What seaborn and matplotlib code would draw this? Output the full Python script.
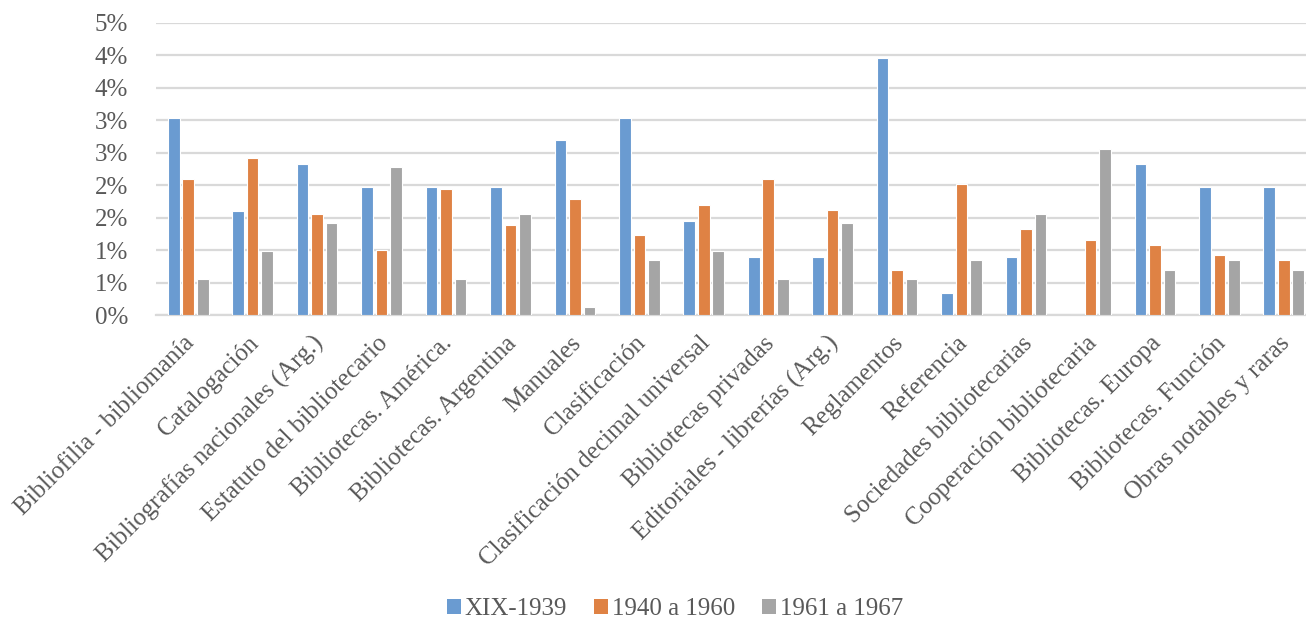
import pandas as pd
import matplotlib
matplotlib.use('Agg')
import matplotlib.pyplot as plt
import seaborn as sns
from matplotlib.patches import Patch
from matplotlib.transforms import ScaledTranslation

# data (percent of total per period)
categories = ['Bibliofilia - bibliomanía', 'Catalogación', 'Bibliografías nacionales (Arg.)',
              'Estatuto del bibliotecario', 'Bibliotecas. América.', 'Bibliotecas. Argentina',
              'Manuales', 'Clasificación', 'Clasificación decimal universal',
              'Bibliotecas privadas', 'Editoriales - librerías (Arg.)', 'Reglamentos',
              'Referencia', 'Sociedades bibliotecarias', 'Cooperación bibliotecaria',
              'Bibliotecas. Europa', 'Bibliotecas. Función', 'Obras notables y raras']
periods = ['XIX-1939', '1940 a 1960', '1961 a 1967']
xix_1939 = [3.04, 1.60, 2.32, 1.97, 1.97, 1.97, 2.69, 3.04, 1.44,
            0.90, 0.90, 3.95, 0.34, 0.90, 0.00, 2.32, 1.97, 1.97]
p1940_1960 = [2.09, 2.41, 1.55, 1.00, 1.94, 1.38, 1.78, 1.23, 1.70,
              2.09, 1.62, 0.69, 2.02, 1.32, 1.16, 1.08, 0.93, 0.85]
p1961_1967 = [0.56, 0.98, 1.42, 2.28, 0.56, 1.55, 0.12, 0.85, 0.98,
              0.56, 1.42, 0.56, 0.85, 1.55, 2.56, 0.69, 0.85, 0.69]
y_ticks = [0, 0.5, 1.0, 1.5, 2.0, 2.5, 3.0, 3.5, 4.0, 4.5]
y_tick_labels = ['0%', '1%', '1%', '2%', '2%', '3%', '3%', '4%', '4%', '5%']

colors = ['#6A9BD1', '#DF8244', '#A5A5A5']
text_color = '#595959'
grid_color = '#D9D9D9'

df = pd.DataFrame({
    'categoria': categories * 3,
    'periodo': [p for p in periods for _ in categories],
    'valor': xix_1939 + p1940_1960 + p1961_1967,
})

sns.set_style('white')
plt.rcParams['font.family'] = ['Liberation Serif', 'DejaVu Serif']

W, H = 1306, 621
fig = plt.figure(figsize=(W / 100, H / 100), dpi=100)
ax = fig.add_axes([156 / W, (H - 315) / H, (1316 - 156) / W, (315 - 22.7) / H])

sns.barplot(data=df, x='categoria', y='valor', hue='periodo',
            hue_order=periods, palette=colors, saturation=1,
            width=0.675, gap=0.2, edgecolor='white', linewidth=0.8,
            ax=ax, legend=False, zorder=3)

ax.set_xlim(-0.5, len(categories) - 0.5)
ax.set_ylim(0, 4.5)
ax.set_yticks(y_ticks)
ax.set_yticklabels(y_tick_labels)
ax.set_xlabel('')
ax.set_ylabel('')

ax.yaxis.grid(True, color=grid_color, linewidth=1.6, zorder=0)
ax.set_axisbelow(True)
for s in ['top', 'right', 'left']:
    ax.spines[s].set_visible(False)
ax.spines['bottom'].set_color(grid_color)
ax.spines['bottom'].set_linewidth(1.6)

ax.tick_params(axis='y', length=0, pad=20, labelsize=18, labelcolor=text_color)
ax.tick_params(axis='x', length=0, pad=0, labelsize=18, labelcolor=text_color)
ax.set_xticks(range(len(categories)))
ax.set_xticklabels(categories, rotation=45, ha='right', va='center',
                   rotation_mode='anchor')
offset = ScaledTranslation(2 / 72, -18 / 72, fig.dpi_scale_trans)
for lbl in ax.get_xticklabels():
    lbl.set_transform(lbl.get_transform() + offset)

handles = [Patch(facecolor=c, edgecolor='none') for c in colors]
fig.legend(handles, periods, loc='center', bbox_to_anchor=(675 / W, 1 - 609 / H),
           ncol=3, frameon=False, fontsize=18, handlelength=0.55, handleheight=0.55,
           handletextpad=0.15, columnspacing=1.1, labelcolor=text_color)

fig.savefig('out.png', dpi=100)
